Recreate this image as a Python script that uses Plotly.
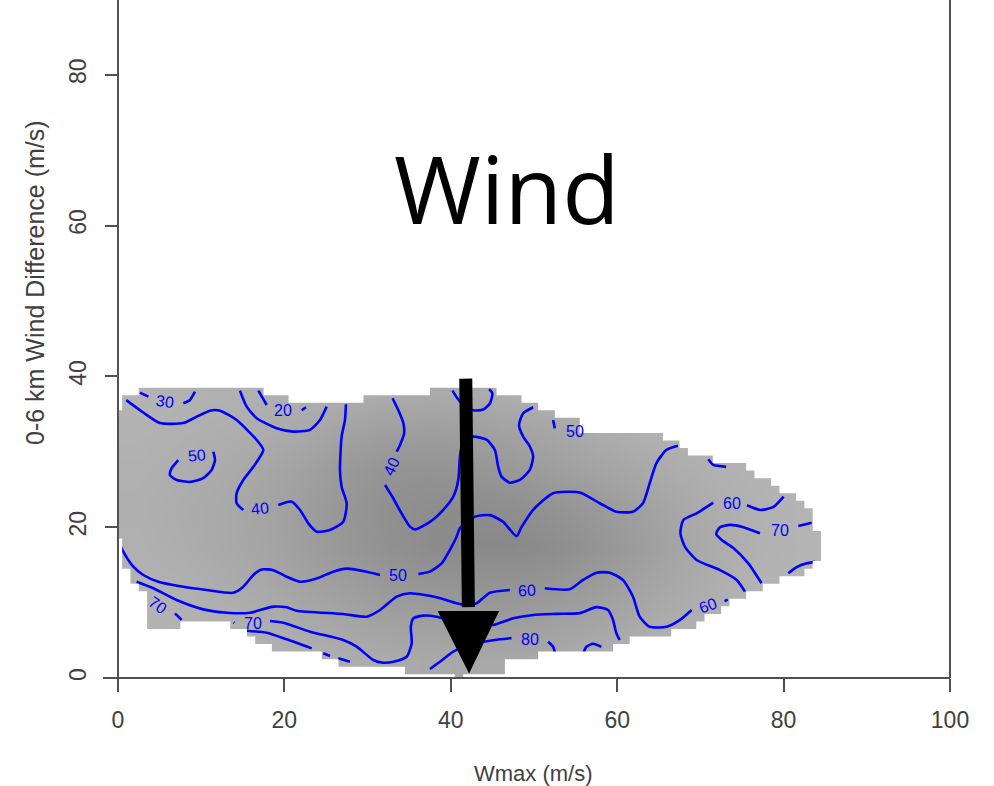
import plotly.graph_objects as go

# ---------------------------------------------------------------------------
# Data
# ---------------------------------------------------------------------------

# Grey shading (grey level 0-255) sampled on a 5 m/s grid, cell centres.
shade_x = [2.5, 7.5, 12.5, 17.5, 22.5, 27.5, 32.5, 37.5, 42.5,
           47.5, 52.5, 57.5, 62.5, 67.5, 72.5, 77.5, 82.5]
shade_y = [2.5, 7.5, 12.5, 17.5, 22.5, 27.5, 32.5, 37.5]
shade_grey = [
    [180, 180, 180, 178, 176, 173, 171, 169, 168, 168, 170, 174, 177, 180, 180, 180, 180],
    [180, 178, 176, 173, 169, 165, 161, 159, 157, 157, 160, 164, 169, 174, 178, 180, 180],
    [178, 176, 172, 168, 162, 157, 152, 149, 147, 147, 150, 155, 162, 169, 175, 179, 180],
    [176, 173, 169, 165, 158, 151, 145, 140, 137, 137, 141, 148, 156, 165, 172, 177, 180],
    [175, 172, 169, 164, 157, 150, 144, 141, 140, 142, 147, 153, 160, 168, 174, 178, 180],
    [176, 174, 171, 167, 161, 153, 148, 147, 149, 153, 158, 163, 168, 173, 177, 179, 180],
    [178, 176, 174, 172, 168, 162, 158, 157, 158, 162, 166, 172, 176, 178, 180, 180, 180],
    [180, 178, 177, 176, 175, 174, 172, 170, 171, 174, 178, 180, 180, 180, 180, 180, 180],
]

# Sampled region: for each Wmax column 0..84, highest and lowest
# wind-difference cell that holds data.
region_top = ([35] + [37] * 2 + [38] * 15 + [37] * 3 + [36] * 9 + [37] * 8 +
              [38] * 8 + [37] * 3 + [36] * 2 + [35] * 2 + [34] * 3 + [32] * 10 +
              [31] * 2 + [30] + [29] * 3 + [28] * 4 + [27] + [26] * 2 + [25] +
              [24] * 2 + [23] + [22] + [19])
region_bottom = ([19, 15, 13, 12] + [7] * 4 + [8] * 6 + [7] * 2 + [6] + [5] * 2 +
                 [4] * 6 + [3] * 2 + [2] * 8 + [1] * 6 + [0] + [1] * 5 + [3] * 4 +
                 [4] * 9 + [5] * 2 + [6] * 5 + [7] * 3 + [8] + [9] * 2 + [10] +
                 [11] * 2 + [12] * 2 + [13] * 2 + [14] * 3 + [15] + [16])

# Contour lines, one list of (Wmax, wind difference) segments per level.
contour_20 = [
    [(16.87, 38.1), (17.4, 37.1), (17.87, 36.2)],
    [(22.08, 35.5), (22.6, 35.9)],
]
contour_30 = [
    [(2.64, 37.84), (3.65, 37.3)],
    [(7.85, 36.43), (8.65, 36.87), (9.25, 37.97)],
    [(14.66, 38.1), (15.47, 35.98), (16.67, 34.44), (19.07, 33.11), (21.07, 32.67),
     (23.08, 32.9), (24.28, 34.2), (25.08, 35.98)],
    [(40.2, 38.1), (41.1, 36.65), (42.7, 35.5), (43.9, 35.6), (44.7, 36.4),
     (45.0, 37.75), (44.6, 38.3)],
]
contour_40 = [
    [(1.0, 36.85), (3.04, 35.2), (5.05, 33.8), (7.85, 33.8), (9.46, 34.65),
     (11.06, 35.45), (12.26, 35.45), (14.26, 34.2), (16.67, 31.56), (17.47, 30.24),
     (16.27, 28.0), (15.06, 26.26), (14.26, 24.5), (14.26, 23.17), (15.06, 22.28)],
    [(19.27, 22.94), (20.87, 23.38), (21.88, 22.28), (22.88, 20.5), (23.88, 19.4),
     (25.48, 19.63), (27.08, 20.73), (27.49, 23.17), (26.88, 25.37), (26.68, 27.6),
     (26.88, 32.0), (27.28, 34.2), (27.4, 36.3)],
    [(33.0, 37.1), (33.7, 35.5), (34.3, 33.8), (34.4, 32.45), (33.9, 30.9), (33.5, 30.0)],
    [(32.1, 25.6), (33.1, 23.8), (34.1, 21.8), (35.1, 20.07), (35.7, 19.7), (37.5, 20.7),
     (39.1, 22.3), (40.3, 24.05), (40.9, 26.26), (41.1, 29.35), (41.5, 31.5),
     (42.7, 32.0), (44.3, 31.6), (45.3, 30.24), (45.7, 28.0), (46.1, 26.7),
     (47.1, 25.9), (48.3, 26.26), (49.5, 27.6), (49.9, 29.35), (49.5, 30.7),
     (48.7, 32.0), (48.2, 33.55), (48.7, 35.1), (49.9, 35.9)],
]
contour_50 = [
    [(7.25, 28.9), (6.44, 27.8), (6.25, 26.9), (7.05, 26.26), (8.65, 26.0),
     (10.25, 26.5), (11.26, 27.6), (11.66, 28.9), (11.46, 30.0)],
    [(0.0, 18.3), (0.64, 16.75), (1.84, 14.76), (3.04, 13.66), (4.85, 12.77),
     (7.85, 12.1), (10.66, 11.67), (13.86, 11.3), (15.06, 12.1), (16.27, 13.66),
     (17.27, 14.4), (18.67, 14.3), (20.27, 13.43), (21.88, 12.77), (23.88, 13.2),
     (25.88, 14.1), (27.49, 14.5), (29.89, 14.1), (31.5, 13.66)],
    [(36.1, 13.8), (37.5, 14.1), (38.9, 15.2), (39.9, 17.0), (40.7, 18.74),
     (41.1, 19.85), (42.9, 21.4), (44.7, 21.6), (46.3, 20.7), (47.9, 18.8),
     (48.5, 20.0), (49.9, 22.3), (52.3, 24.5), (55.5, 24.6), (57.9, 23.17),
     (59.9, 22.05), (61.9, 22.05), (63.1, 23.17), (63.9, 25.8), (64.7, 28.47),
     (65.9, 30.24), (67.3, 30.8)],
    [(52.3, 34.2), (52.5, 33.1)],
    [(57.0, 32.7), (58.2, 32.9)],
]
contour_60 = [
    [(2.24, 12.77), (4.25, 11.9), (7.05, 10.34), (10.25, 9.1), (13.06, 8.66),
     (15.87, 8.66), (18.67, 9.46), (20.27, 9.37), (21.47, 8.93), (27.08, 8.49),
     (29.89, 8.13), (31.5, 9.02), (33.5, 10.78), (35.1, 11.23), (38.3, 10.7),
     (40.7, 9.9), (42.0, 9.7), (43.1, 9.9), (44.7, 11.3), (47.1, 11.67)],
    [(51.3, 11.9), (54.3, 11.76), (55.9, 13.0), (57.5, 13.97), (59.1, 13.97),
     (60.7, 13.0), (61.9, 10.78), (62.7, 8.13), (63.9, 6.8), (65.95, 6.8),
     (67.55, 7.7), (68.95, 9.02)],
    [(72.9, 10.2), (73.3, 10.4)],
    [(75.36, 11.45), (74.36, 13.0), (72.36, 14.3), (69.55, 15.65), (68.15, 17.4),
     (67.6, 19.2), (67.95, 20.95), (69.55, 21.84), (71.55, 23.25)],
    [(75.6, 22.9), (77.2, 22.28), (78.8, 22.7), (80.0, 24.05)],
    [(70.95, 29.0), (71.55, 28.25), (73.1, 28.0)],
]
contour_70 = [
    [(3.0, 11.25), (3.1, 11.15)],
    [(6.85, 8.58), (7.65, 7.7)],
    [(13.9, 7.36), (14.0, 7.3)],
    [(18.27, 7.56), (19.87, 7.33), (23.08, 6.14), (27.08, 5.04), (28.69, 4.15),
     (30.69, 2.39), (31.9, 2.03), (33.1, 2.16), (34.7, 2.82), (35.3, 4.6),
     (35.2, 6.8), (35.5, 7.91), (36.7, 8.27), (38.3, 8.13), (40.0, 7.6),
     (42.0, 7.2), (45.1, 7.03), (47.5, 7.91), (49.9, 8.36), (52.7, 8.5),
     (55.5, 8.6), (57.5, 9.4), (58.9, 9.02), (59.5, 7.7), (59.9, 5.93), (60.3, 5.04)],
    [(77.35, 12.56), (75.76, 15.2), (74.0, 17.2), (72.56, 18.3), (71.9, 19.1),
     (72.35, 20.0), (73.56, 20.3), (75.16, 20.0), (77.16, 19.2)],
    [(81.77, 20.16), (83.37, 20.6)],
    [(80.57, 13.9), (81.57, 14.7), (82.77, 15.2), (83.77, 15.4)],
]
contour_80 = [
    [(37.5, 1.2), (38.7, 2.16), (40.3, 3.49), (42.0, 4.3), (44.5, 4.9),
     (45.9, 5.13), (47.3, 5.3)],
    [(51.7, 4.82), (52.3, 4.15), (52.6, 3.05)],
    [(55.85, 3.05), (56.3, 4.15), (57.1, 4.55), (58.1, 4.15)],
    [(15.47, 6.27), (17.87, 6.0), (20.27, 5.13), (23.28, 3.93)],
    [(24.68, 3.28), (25.48, 2.92)],
    [(26.48, 2.61), (27.88, 2.16)],
]

# Contour labels: (text, Wmax, wind difference, text angle)
contour_labels = [
    ("30", 5.65, 36.65, 8),
    ("20", 19.87, 35.5, 0),
    ("50", 9.46, 29.44, -5),
    ("40", 17.07, 22.5, -5),
    ("40", 32.9, 28.0, -65),
    ("50", 54.9, 32.7, 0),
    ("50", 33.7, 13.6, 0),
    ("60", 49.1, 11.67, -3),
    ("60", 73.75, 23.17, 0),
    ("70", 79.57, 19.54, 0),
    ("60", 70.95, 9.6, -20),
    ("70", 4.85, 9.68, 35),
    ("70", 16.27, 7.25, 0),
    ("80", 49.5, 5.08, 0),
]

# Arrow: top and tip in data units
arrow_x = [41.8, 42.2]
arrow_y = [39.7, 0.6]

x_ticks = [0, 20, 40, 60, 80, 100]
y_ticks = [0, 20, 40, 60, 80]
x_range = [-1.8, 100]
y_range = [-1.59, 89.9]

# ---------------------------------------------------------------------------
# Figure
# ---------------------------------------------------------------------------
AXIS_GREY = "#505050"
TEXT_GREY = "#404040"
LINE_BLUE = "#0000ff"
BASE_FONT = "Liberation Sans, Arial, sans-serif"

fig = go.Figure()

fig.add_trace(go.Heatmap(
    x=shade_x, y=shade_y, z=shade_grey,
    zmin=0, zmax=255, zsmooth="best",
    colorscale=[[0, "rgb(0,0,0)"], [1, "rgb(255,255,255)"]],
    showscale=False, hoverinfo="skip",
))

line_x, line_y = [], []
for level in (contour_20, contour_30, contour_40, contour_50,
              contour_60, contour_70, contour_80):
    for seg in level:
        line_x += [p[0] for p in seg] + [None]
        line_y += [p[1] for p in seg] + [None]

fig.add_trace(go.Scatter(
    x=line_x, y=line_y, mode="lines",
    line=dict(color=LINE_BLUE, width=2.6, shape="spline", smoothing=0.6),
    connectgaps=False, hoverinfo="skip",
))

# White cover outside the sampled region (even-odd fill keeps the region open)
outline = []
for i, t in enumerate(region_top):
    outline += [(max(i - 0.5, 0), t + 0.5), (i + 0.5, t + 0.5)]
for i in range(len(region_bottom) - 1, -1, -1):
    b = max(region_bottom[i] - 0.5, 0)
    outline += [(i + 0.5, b), (max(i - 0.5, 0), b)]
cover = ("M0,0 L88,0 L88,42 L0,42 Z M" +
         " L".join(f"{x},{y}" for x, y in outline) + " Z")

shapes = [dict(type="path", path=cover, xref="x", yref="y",
               fillcolor="white", fillrule="evenodd",
               line=dict(width=0), layer="above")]

# Axis lines through the origin and the right-hand frame
shapes.append(dict(type="line", xref="x", yref="y", x0=x_range[0], x1=100, y0=0, y1=0,
                   line=dict(color=AXIS_GREY, width=2), layer="above"))
shapes.append(dict(type="line", xref="x", yref="y", x0=0, x1=0, y0=y_range[0], y1=y_range[1],
                   line=dict(color=AXIS_GREY, width=2), layer="above"))
y0_paper = (0 - y_range[0]) / (y_range[1] - y_range[0])
shapes.append(dict(type="line", xref="paper", yref="paper", x0=1, x1=1, y0=y0_paper, y1=1,
                   line=dict(color=AXIS_GREY, width=2), layer="above"))

# Arrow: shaft plus triangular head
head_len, head_half = 8.3, 3.7
base_y = arrow_y[1] + head_len
base_x = arrow_x[0] + (arrow_x[1] - arrow_x[0]) * (arrow_y[0] - base_y) / (arrow_y[0] - arrow_y[1])
shapes.append(dict(type="line", xref="x", yref="y",
                   x0=arrow_x[0], y0=arrow_y[0], x1=base_x, y1=base_y + 0.5,
                   line=dict(color="black", width=13), layer="above"))
shapes.append(dict(type="path", xref="x", yref="y",
                   path=(f"M{base_x - head_half},{base_y} L{base_x + head_half},{base_y} "
                         f"L{arrow_x[1]},{arrow_y[1]} Z"),
                   fillcolor="black", line=dict(width=0), layer="above"))

annotations = []
for text, x, y, ang in contour_labels:
    annotations.append(dict(
        x=x, y=y, xref="x", yref="y", text=text, showarrow=False,
        textangle=ang, xanchor="center", yanchor="middle",
        font=dict(family=BASE_FONT, size=16, color=LINE_BLUE),
    ))

annotations.append(dict(
    x=46.8, y=65.0, xref="x", yref="y", text="Wind", showarrow=False,
    xanchor="center", yanchor="middle",
    font=dict(family="Open Sans, Noto Sans, sans-serif", size=94, color="black"),
))
annotations.append(dict(
    x=50, y=-0.1203, xref="x", yref="paper", text="Wmax (m/s)", showarrow=False,
    xanchor="center", yanchor="middle",
    font=dict(family=BASE_FONT, size=22, color=TEXT_GREY),
))
annotations.append(dict(
    x=-0.0803, y=0.5913, xref="paper", yref="paper",
    text="0-6 km Wind Difference (m/s)", showarrow=False, textangle=-90,
    xanchor="center", yanchor="middle",
    font=dict(family=BASE_FONT, size=25, color=TEXT_GREY),
))

tick_font = dict(family=BASE_FONT, size=23, color=TEXT_GREY)
fig.update_layout(
    width=994, height=786,
    margin=dict(l=103, r=44, t=0, b=96),
    paper_bgcolor="white", plot_bgcolor="white",
    showlegend=False,
    xaxis=dict(
        range=x_range, anchor="free",
        position=(0 - y_range[0]) / (y_range[1] - y_range[0]),
        showgrid=False, zeroline=False, showline=False,
        tickmode="array", tickvals=x_ticks,
        ticks="outside", ticklen=13, tickwidth=2, tickcolor=AXIS_GREY,
        tickfont=tick_font, ticklabelstandoff=8,
    ),
    yaxis=dict(
        range=y_range, anchor="free",
        position=(0 - x_range[0]) / (x_range[1] - x_range[0]),
        showgrid=False, zeroline=False, showline=False,
        tickmode="array", tickvals=y_ticks, tickangle=-90,
        ticks="outside", ticklen=13, tickwidth=2, tickcolor=AXIS_GREY,
        tickfont=tick_font, ticklabelstandoff=10,
    ),
    shapes=shapes,
    annotations=annotations,
)

fig.write_html("out.html")
